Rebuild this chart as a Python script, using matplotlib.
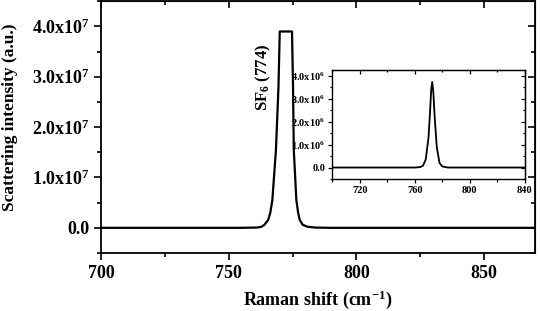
import matplotlib
matplotlib.use("Agg")
import matplotlib.pyplot as plt
from matplotlib.ticker import MultipleLocator, FuncFormatter, NullFormatter

plt.rcParams['font.family'] = ['Liberation Serif', 'DejaVu Serif']
plt.rcParams['font.weight'] = 'bold'
plt.rcParams['mathtext.fontset'] = 'custom'
plt.rcParams['mathtext.rm'] = 'Liberation Serif:bold'
plt.rcParams['mathtext.it'] = 'Liberation Serif:bold'
plt.rcParams['mathtext.bf'] = 'Liberation Serif:bold'

# main spectrum (detector saturated at the top), intensity in units of 1e7
main_shift = [700, 755, 761, 762.8, 764, 765.5, 766.3, 767.1, 768.5, 769.5, 770.0,
              774.8, 775.2, 775.5, 776.5, 777.2, 777.8, 779, 781, 784, 790, 870]
main_int = [0, 0, 0.005, 0.02, 0.06, 0.16, 0.3, 0.55, 1.54, 2.8, 3.9,
            3.9, 2.8, 1.54, 0.55, 0.3, 0.16, 0.06, 0.02, 0.005, 0, 0]

# inset spectrum, intensity in units of 1e6
ins_shift = [700, 760, 764, 766, 768, 770, 771, 772, 772.7,
             773.5, 774.5, 776, 778, 780, 784, 840]
ins_int = [0, 0, 0.02, 0.08, 0.35, 1.3, 2.3, 3.4, 3.73,
           3.3, 2.2, 0.9, 0.2, 0.05, 0, 0]


def mirror(a, xmaj, xmin, ymaj, ymin, ln, w):
    # ticks on the top and right pointing inwards, no labels
    top = a.secondary_xaxis('top')
    right = a.secondary_yaxis('right')
    top.xaxis.set_major_locator(MultipleLocator(xmaj))
    top.xaxis.set_minor_locator(MultipleLocator(xmin))
    right.yaxis.set_major_locator(MultipleLocator(ymaj))
    right.yaxis.set_minor_locator(MultipleLocator(ymin))
    top.xaxis.set_major_formatter(NullFormatter())
    right.yaxis.set_major_formatter(NullFormatter())
    for s in (top, right):
        s.tick_params(which='both', direction='in', width=w)
        s.tick_params(which='major', length=ln)
        s.tick_params(which='minor', length=ln * 0.6)


fig = plt.figure(figsize=(5.4, 3.11), dpi=100)
ax = fig.add_axes([0.187, 0.1865, 0.804, 0.811])

ax.plot(main_shift, [v * 1e7 for v in main_int], '-', color='k', lw=1.6)
ax.set_xlim(700, 870)
ax.set_ylim(-0.5e7, 4.51e7)
ax.xaxis.set_major_locator(MultipleLocator(50))
ax.xaxis.set_minor_locator(MultipleLocator(25))
ax.yaxis.set_major_locator(MultipleLocator(1e7))
ax.yaxis.set_minor_locator(MultipleLocator(0.5e7))


def fmt7(v, pos):
    if abs(v) < 1:
        return '0.0'
    return '%.1fx10$^{7}$' % (v / 1e7)


ax.yaxis.set_major_formatter(FuncFormatter(fmt7))
ax.tick_params(which='both', direction='out', width=1.2)
ax.tick_params(which='major', length=5, labelsize=13)
ax.tick_params(which='minor', length=3)
for s in ax.spines.values():
    s.set_linewidth(1.3)
mirror(ax, 50, 25, 1e7, 0.5e7, 5, 1.2)
ax.set_xlabel('Raman shift (cm$^{-1}$)', fontsize=13, fontweight='bold', labelpad=5)
ax.set_ylabel('Scattering intensity (a.u.)', fontsize=12.5, fontweight='bold')
ax.yaxis.set_label_coords(-0.192, 0.54)
ax.text(763.6, 2.99e7, 'SF$_6$ (774)', rotation=90, ha='center', va='center',
        fontsize=12, fontweight='bold')

ins = fig.add_axes([0.615, 0.4244, 0.357, 0.3505])
ins.plot(ins_shift, [v * 1e6 for v in ins_int], '-', color='k', lw=1.3)
ins.set_xlim(700, 840)
ins.set_ylim(-0.5e6, 4.25e6)
ins.xaxis.set_major_locator(MultipleLocator(40))
ins.xaxis.set_minor_locator(MultipleLocator(20))
ins.yaxis.set_major_locator(MultipleLocator(1e6))
ins.yaxis.set_minor_locator(MultipleLocator(0.5e6))


def fmt6(v, pos):
    if abs(v) < 1:
        return '0.0'
    return '%.1fx10$^{6}$' % (v / 1e6)


ins.yaxis.set_major_formatter(FuncFormatter(fmt6))
ins.tick_params(which='both', direction='out', width=0.9, labelsize=7.5, pad=2)
ins.tick_params(which='major', length=3)
ins.tick_params(which='minor', length=1.8)
for s in ins.spines.values():
    s.set_linewidth(1.0)
mirror(ins, 40, 20, 1e6, 0.5e6, 3, 0.9)

fig.savefig('out.png', dpi=100)
